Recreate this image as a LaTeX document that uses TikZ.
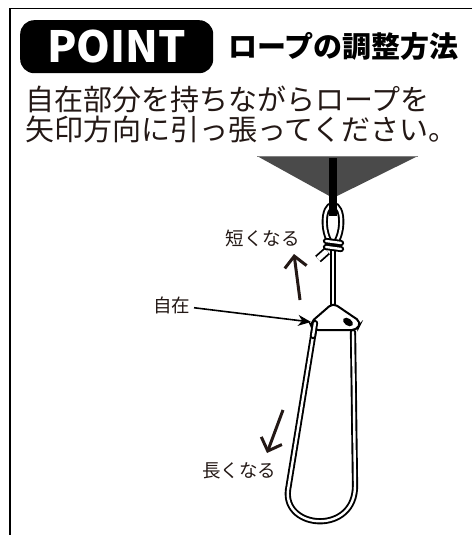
\documentclass[tikz,border=0pt]{standalone}
\usepackage{fontspec}
\usepackage{xcolor}
\usepackage{tikz}
\usetikzlibrary{positioning, arrows.meta, calc}
\newfontfamily\jpfont{Noto Sans CJK JP}
\definecolor{inkbrown}{HTML}{231815}
\definecolor{tarpgray}{HTML}{4A4A4A}

\begin{document}
\begin{tikzpicture}[x=1pt, y=-1pt,
    rope/.style={line width=1.9pt, double=white, double distance=2.4pt, line cap=round},
    lead/.style={anchor=base west, inner sep=0pt, text=inkbrown, font=\jpfont\fontsize{29}{30}\selectfont},
    tag/.style={text=inkbrown, font=\jpfont\fontsize{18.5}{20}\selectfont, inner sep=0pt, outer sep=4pt},
    pull/.style={draw=inkbrown, line width=3pt, -{Straight Barb[length=11pt, width=22pt]}}]
    \useasboundingbox (0,0) rectangle (472,535);
    % frame
    \draw[line width=1.5pt] (472,8.5) -- (10,8.5) -- (10,535);

    % heading
    \node[fill=black, rounded corners=14pt, minimum width=193pt, minimum height=53pt,
          anchor=north west, text=white, font=\jpfont\bfseries\fontsize{43}{45}\selectfont]
          (pointbox) at (20,20) {POINT};
    \node[anchor=base west, inner sep=0pt, font=\jpfont\bfseries\fontsize{29}{30}\selectfont]
          (title) at (228,58) {ロープの調整方法};
    \node[lead] (leadone) at (25,110.5) {自在部分を持ちながらロープを};
    \node[lead] (leadtwo) at (25,140.5) {矢印方向に引っ張ってください。};

    % tarp corner and strap
    \fill[tarpgray] (257,156) -- (418,156) -- (333,198) -- cycle;
    \draw[gray, line width=1pt] (257,156) -- (418,156);
    \draw[rope] (333,246) .. controls (322,236) and (322,205) .. (333,205)
                .. controls (344,205) and (344,236) .. (333,246);
    \draw[line width=8pt] (333,158) -- (333,216);

    % knot and tail
    \draw[rope] (333,250) -- (333,308);
    \draw[line width=1.8pt, double=white, double distance=5pt] (327,251) -- (318,259);
    \draw[rope] (326,241) -- (341,243);
    \draw[rope] (326,247) -- (341,249);

    % loop through the hitch plate
    \draw[rope] (315,324) -- (288,490) .. controls (283,530) and (356,535) .. (355,485) -- (353,332);
    \draw[fill=white, line width=2pt, rounded corners=5pt]
          (333,303) -- (310,323) -- (313,330) -- (357,330) -- (361,322) -- cycle;
    \fill[rotate around={-35:(348,322)}] (348,322) ellipse (5.5pt and 3.5pt);
    \draw[rope] (315,323) -- (313,336);

    % labels and arrows
    \coordinate (hitchtip) at (311,322);
    \node[tag] (jizai) at (171.5,305) {自在};
    \draw[line width=1.6pt, -{Stealth[length=13pt, width=11pt]}] (jizai) -- (hitchtip);

    \node[tag] (shorter) at (262.5,238) {短くなる};
    \coordinate (upfrom) at (300,300);
    \coordinate (upto) at (294,254);
    \draw[pull] (upfrom) -- (upto);

    \node[tag] (longer) at (239,471) {長くなる};
    \coordinate (downfrom) at (283,410);
    \coordinate (downto) at (267,453);
    \draw[pull] (downfrom) -- (downto);
\end{tikzpicture}
\end{document}
